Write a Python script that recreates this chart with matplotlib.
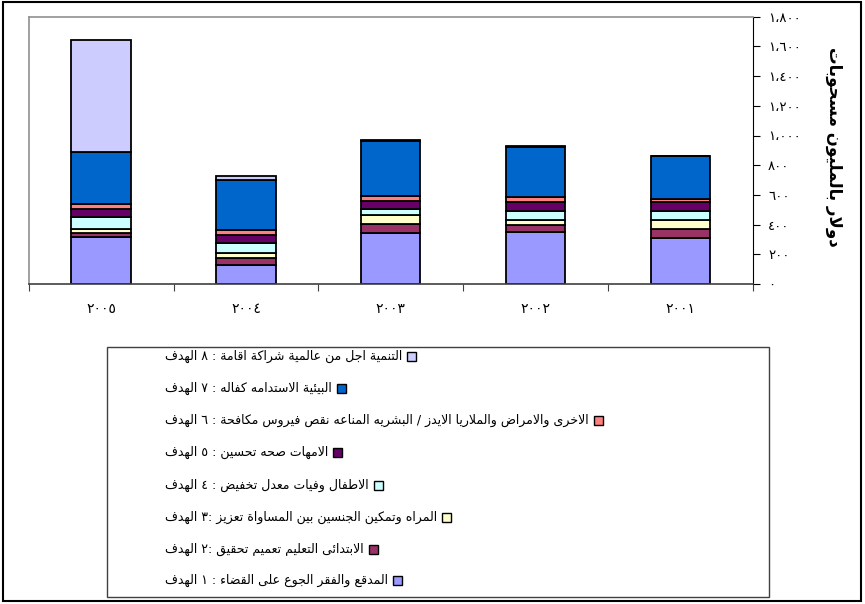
import numpy as np
import matplotlib
matplotlib.use('Agg')
import matplotlib.pyplot as plt
from matplotlib.patches import Rectangle

# data, in the order the bars appear (left to right)
years = [2005, 2004, 2003, 2002, 2001]
goal1 = [317, 128, 342, 349, 310]
goal2 = [25, 49, 63, 49, 63]
goal3 = [31, 34, 60, 34, 59]
goal4 = [81, 63, 41, 62, 62]
goal5 = [52, 56, 56, 57, 59]
goal6 = [35, 34, 33, 34, 22]
goal7 = [351, 337, 371, 339, 284]
goal8 = [749, 29, 5, 4, 4]
goals = [goal1, goal2, goal3, goal4, goal5, goal6, goal7, goal8]

colors = ['#9999FF', '#993366', '#FFFFCC', '#CCFFFF',
          '#660066', '#FF8080', '#0066CC', '#CCCCFF']

labels = [
    'الهدف ١ : القضاء على الجوع والفقر المدقع',
    'الهدف ٢: تحقيق تعميم التعليم الابتدائى',
    'الهدف ٣: تعزيز المساواة بين الجنسين وتمكين المراه',
    'الهدف ٤ : تخفيض معدل وفيات الاطفال',
    'الهدف ٥ : تحسين صحه الامهات',
    'الهدف ٦ : مكافحة فيروس نقص المناعه البشريه / الايدز والملاريا والامراض الاخرى',
    'الهدف ٧ : كفاله الاستدامه البيئية',
    'الهدف ٨ : اقامة شراكة عالمية من اجل التنمية',
]
y_title = 'مسحوبات بالمليون دولار'
y_ticks = [0, 200, 400, 600, 800, 1000, 1200, 1400, 1600, 1800]


# matplotlib has no arabic shaping, so join the letters by hand
FORMS = {}
code = 0xFE80
for ch, n in zip('ءآأؤإئابةتثجحخدذرزسشصضطظعغفقكلمنهوىي',
                 [1, 2, 2, 2, 2, 4, 2, 4, 2, 4, 4, 4, 4, 4, 2, 2, 2, 2, 4, 4,
                  4, 4, 4, 4, 4, 4, 4, 4, 4, 4, 4, 4, 4, 2, 2, 4]):
    FORMS[ch] = [chr(code + k) for k in range(n)]
    code += n
LAM_ALEF = {'آ': 0xFEF5, 'أ': 0xFEF7, 'إ': 0xFEF9, 'ا': 0xFEFB}


def shape_word(w):
    out = []
    i = 0
    while i < len(w):
        ch = w[i]
        if ch not in FORMS:
            out.append(ch)
            i += 1
            continue
        prev = i > 0 and w[i - 1] in FORMS and len(FORMS[w[i - 1]]) == 4
        if ch == 'ل' and i + 1 < len(w) and w[i + 1] in LAM_ALEF:
            out.append(chr(LAM_ALEF[w[i + 1]] + (1 if prev else 0)))
            i += 2
            continue
        f = FORMS[ch]
        nxt = len(f) == 4 and i + 1 < len(w) and w[i + 1] in FORMS and w[i + 1] != 'ء'
        if len(f) == 1:
            out.append(f[0])
        elif prev and nxt:
            out.append(f[3])
        elif prev:
            out.append(f[1])
        elif nxt:
            out.append(f[2])
        else:
            out.append(f[0])
        i += 1
    return ''.join(reversed(out))


def ar(s):
    return ' '.join(shape_word(t) if any(c in FORMS for c in t) else t
                    for t in s.split(' '))


def ar_num(s):
    return s.translate(str.maketrans('0123456789,', '٠١٢٣٤٥٦٧٨٩،'))


W, H = 865, 604
fig = plt.figure(figsize=(W / 100, H / 100), dpi=100)
ax = fig.add_axes([28.7 / W, 1 - 284 / H, (752.7 - 28.7) / W, (284 - 16.7) / H])

x = np.arange(len(years))
bottom = np.zeros(len(years))
for vals, c in zip(goals, colors):
    ax.bar(x, vals, 0.41, bottom=bottom, color=c, edgecolor='black', linewidth=1.3)
    bottom += np.array(vals)

ax.set_xlim(-0.5, len(years) - 0.5)
ax.set_ylim(0, 1800)

ax.yaxis.tick_right()
ax.set_yticks(y_ticks)
ax.set_yticklabels([ar_num(f'{v:,}') for v in y_ticks], fontsize=9.5)
ax.tick_params(axis='y', direction='out', length=5, pad=6, colors='black')

ax.set_xticks(np.arange(-0.5, len(years), 1))
ax.set_xticklabels([])
ax.set_xticks(x, minor=True)
ax.set_xticklabels([ar_num(str(y)) for y in years], minor=True, fontsize=10)
ax.tick_params(axis='x', which='major', direction='out', length=5, color='#404040')
ax.tick_params(axis='x', which='minor', length=0, pad=13)

ax.spines['top'].set_color('#909090')
ax.spines['left'].set_color('#909090')
ax.spines['top'].set_linewidth(1.2)
ax.spines['left'].set_linewidth(1.2)
ax.spines['bottom'].set_color('#404040')
ax.spines['bottom'].set_linewidth(1.2)
ax.spines['right'].set_color('black')

fig.text(834 / W, 1 - 147 / H, ar(y_title), rotation=-90, ha='center', va='center',
         fontsize=12, fontweight='bold')

# outer frame and legend box
fig.add_artist(Rectangle((3 / W, 3 / H), 858 / W, 599 / H, transform=fig.transFigure,
                         fill=False, edgecolor='black', linewidth=1.5))
fig.add_artist(Rectangle((107 / W, 1 - 597 / H), 662 / W, 250 / H, transform=fig.transFigure,
                         fill=False, edgecolor='#404040', linewidth=1))

# legend: text first, marker right after the end of each line
rows = [580, 549, 517, 485, 452, 420, 388, 356]
renderer = fig.canvas.get_renderer()
for lab, c, ry in zip(labels, colors, rows):
    t = fig.text(165 / W, 1 - ry / H, ar(lab), ha='left', va='center', fontsize=9)
    bb = t.get_window_extent(renderer=renderer)
    fig.add_artist(Rectangle(((bb.x1 + 5) / W, 1 - (ry + 4.5) / H), 9 / W, 9 / H,
                             transform=fig.transFigure, facecolor=c,
                             edgecolor='black', linewidth=1))

fig.savefig('out.png', dpi=100)
